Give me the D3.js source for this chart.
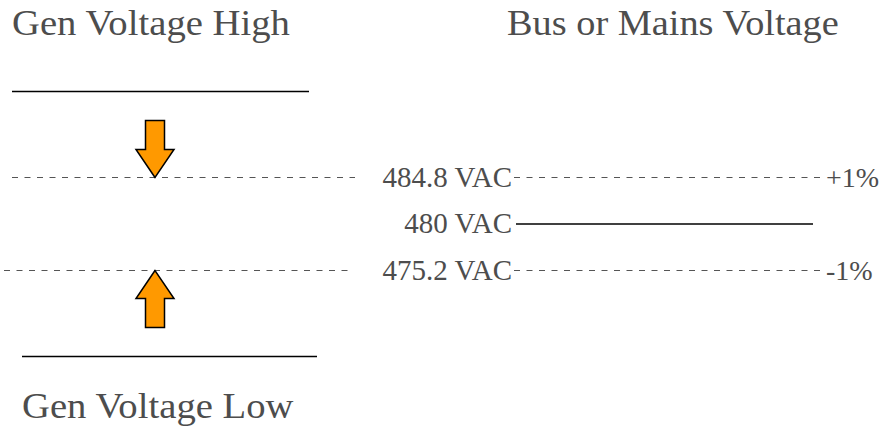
<!DOCTYPE html>
<html><head><meta charset="utf-8">
<script src="https://cdn.jsdelivr.net/npm/d3@7"></script>
</head><body style="margin:0">
<script>
const busLevels = [484.8, 480, 475.2];
const busLabels = ["484.8 VAC", "480 VAC", "475.2 VAC"];
const pctLabels = ["+1%", "", "-1%"];
const busDashed = [true, false, true];
const genLevels = [493.7, 466.4];
const genLabels = ["Gen Voltage High", "Gen Voltage Low"];
const titles = ["Bus or Mains Voltage"];

const W = 882, H = 431;
const svg = d3.select("body").append("svg").attr("width", W).attr("height", H).style("display", "block");
const y = d3.scaleLinear().domain([475.2, 484.8]).range([270.5, 177.5]);
const serifFamily = "Liberation Serif";
const tc = "#4d4d4d";
const dash = "6,6.5";

function txt(x, yy, s, size, anchor, sx) {
  return svg.append("text")
    .attr("transform", `translate(${x},${yy}) scale(${sx || 1},1)`)
    .style("font-family", serifFamily).style("font-size", size + "px")
    .attr("text-anchor", anchor || "start").attr("fill", tc).text(s);
}

// Gen high/low solid lines
const gy0 = Math.round(y(genLevels[0])) + 0.5, gy1 = Math.round(y(genLevels[1])) + 0.5;
svg.append("line").attr("x1", 12).attr("x2", 309).attr("y1", gy0).attr("y2", gy0).attr("stroke", "#000").attr("stroke-width", 1.6);
svg.append("line").attr("x1", 22).attr("x2", 317).attr("y1", gy1).attr("y2", gy1).attr("stroke", "#000").attr("stroke-width", 1.6);

// titles
txt(12, 35, genLabels[0], 36, "start", 1.075);
txt(22, 418, genLabels[1], 36, "start", 1.075);
txt(507, 35, titles[0], 36, "start", 1.065);

// left dashed lines
svg.append("line").attr("x1", 12).attr("x2", 355).attr("y1", y(484.8)).attr("y2", y(484.8)).attr("stroke", "#555").attr("stroke-dasharray", dash);
svg.append("line").attr("x1", 4).attr("x2", 352).attr("y1", y(475.2)).attr("y2", y(475.2)).attr("stroke", "#555").attr("stroke-dasharray", dash);

// bus lines
busLevels.forEach((v, i) => {
  const yy = y(v);
  svg.append("line").attr("x1", busDashed[i] ? 514 : 516).attr("x2", busDashed[i] ? 822 : 813)
    .attr("y1", yy).attr("y2", yy)
    .attr("stroke", busDashed[i] ? "#555" : "#000")
    .attr("stroke-width", busDashed[i] ? 1 : 1.6)
    .attr("stroke-dasharray", busDashed[i] ? dash : null);
  txt(512, yy + 9, busLabels[i], 29, "end");
  if (pctLabels[i]) txt(826, yy + 9, pctLabels[i], 28);
});

// arrows
function arrow(tipY, dir) {
  const cx = 155, hw = 19, sw = 9.5, headLen = 28, total = 57;
  const s = dir;
  const pts = [
    [cx, tipY],
    [cx - hw, tipY + s * headLen],
    [cx - sw, tipY + s * headLen],
    [cx - sw, tipY + s * total],
    [cx + sw, tipY + s * total],
    [cx + sw, tipY + s * headLen],
    [cx + hw, tipY + s * headLen]
  ];
  svg.append("polygon").attr("points", pts.map(p => p.join(",")).join(" "))
    .attr("fill", "#ff9900").attr("stroke", "#000").attr("stroke-width", 1.5);
}
arrow(y(484.8), -1);
arrow(y(475.2), 1);
</script>
</body></html>
